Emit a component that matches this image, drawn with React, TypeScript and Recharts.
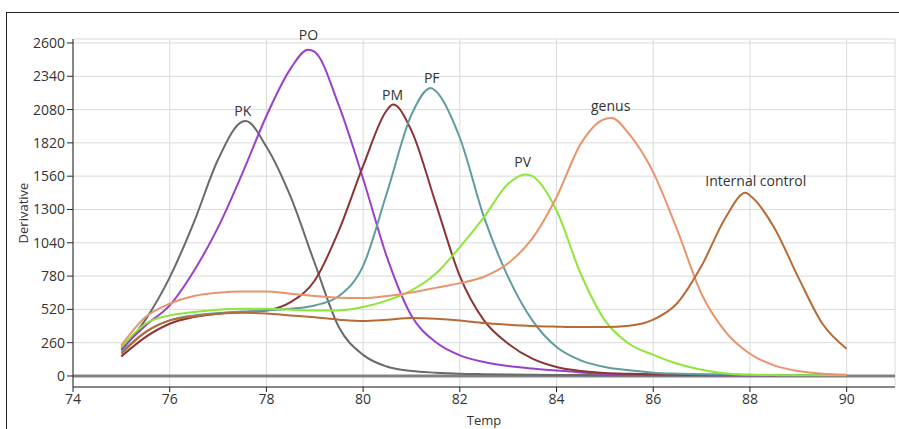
import React from 'react';
import { LineChart, Line, XAxis, YAxis, CartesianGrid, ReferenceLine, ReferenceDot, Label } from 'recharts';

const temps = [
  75, 75.5, 76, 76.5, 77, 77.5, 78, 78.5, 79, 79.5, 80, 80.5, 81, 81.5, 82, 82.5,
  83, 83.5, 84, 84.5, 85, 85.5, 86, 86.5, 87, 87.5, 88, 88.5, 89, 89.5, 90,
];

const pk = [200, 440, 770, 1200, 1690, 1985, 1790, 1400, 880, 380, 165, 72, 39, 26, 18, 14, 11, 9, 8, 7, 6, 6, 5, 5, 5, 5, 5, 5, 5, 5, 5];
const po = [213, 395, 551, 820, 1160, 1580, 2030, 2400, 2530, 2110, 1540, 920, 470, 265, 161, 109, 78, 58, 42, 28, 18, 12, 10, 8, 7, 6, 6, 6, 6, 6, 6];
const pm = [153, 304, 408, 460, 486, 499, 512, 577, 746, 1136, 1640, 2080, 1916, 1350, 780, 434, 252, 135, 70, 39, 23, 17, 13, 11, 10, 9, 8, 8, 8, 8, 8];
const pf = [187, 343, 434, 473, 491, 504, 512, 525, 551, 625, 860, 1440, 2040, 2225, 1860, 1240, 772, 434, 226, 122, 70, 44, 26, 18, 13, 11, 9, 8, 8, 8, 8];
const pv = [226, 408, 473, 499, 517, 525, 525, 517, 512, 512, 538, 590, 668, 798, 1006, 1240, 1500, 1560, 1292, 798, 434, 252, 165, 96, 49, 20, 10, 7, 5, 5, 5];
const genus = [239, 460, 564, 624, 650, 660, 660, 642, 625, 610, 608, 625, 652, 688, 725, 775, 880, 1075, 1396, 1812, 2007, 1890, 1590, 1136, 640, 343, 174, 83, 39, 18, 10];
const internalControl = [174, 343, 434, 465, 486, 494, 488, 473, 458, 440, 429, 439, 452, 447, 434, 413, 400, 390, 385, 382, 382, 392, 440, 570, 860, 1240, 1409, 1160, 770, 408, 213];

const seriesValues = [pk, po, pm, pf, pv, genus, internalControl];
const seriesNames = ['PK', 'PO', 'PM', 'PF', 'PV', 'genus', 'Internal control'];
const seriesColors = ['#6a6a6a', '#9a40cc', '#8b3434', '#5e9ca2', '#8ee63a', '#e8946c', '#b86a34'];
const peakTemps = [77.57, 78.86, 80.62, 81.4, 83.36, 85.14, 87.91];
const peakValues = [1990, 2548, 2119, 2249, 1573, 2015, 1430];

// label anchor points (centre of text)
const labelTemps = [77.51, 78.87, 80.61, 81.42, 83.3, 85.12, 88.12];
const labelValues = [2070, 2665, 2196, 2329, 1672, 2110, 1523];

const xTicks = [74, 76, 78, 80, 82, 84, 86, 88, 90];
const yTicks = [0, 260, 520, 780, 1040, 1300, 1560, 1820, 2080, 2340, 2600];

const FONT = '"Open Sans", "Noto Sans", sans-serif';

const buildSeries = (values: number[], peakT: number, peakV: number) => {
  const pts = temps.map((t, i) => ({ t, v: values[i] }));
  pts.push({ t: peakT, v: peakV });
  return pts.sort((a, b) => a.t - b.t);
};

const noTick = () => <g />;

export default function App() {
  return (
    <div style={{ position: 'absolute', left: 0, top: 0, width: 899, height: 429, background: '#fff', overflow: 'hidden' }}>
      <div style={{ position: 'absolute', left: 6, top: 12, width: 900, height: 420, borderLeft: '1px solid #222', borderTop: '1px solid #222' }} />
      <div style={{ position: 'absolute', left: 0, top: 0 }}>
        <LineChart width={899} height={429} margin={{ top: 39, right: 4, bottom: 2, left: 13 }}>
          <CartesianGrid stroke="#dadada" strokeWidth={1} />
          <XAxis
            xAxisId={0}
            type="number"
            dataKey="t"
            domain={[74, 91]}
            ticks={xTicks}
            height={40}
            tickSize={5}
            stroke="#222"
            tick={{ fill: '#333', fontSize: 14, fontFamily: FONT }}
            allowDuplicatedCategory={false}
          >
            <Label value="Temp" position="insideBottom" offset={2} style={{ fill: '#333', fontSize: 13, fontFamily: FONT }} />
          </XAxis>
          <XAxis
            xAxisId="top"
            orientation="top"
            type="number"
            domain={[74, 91]}
            ticks={xTicks}
            height={0}
            mirror
            tickSize={4}
            stroke="#333"
            tick={noTick}
          />
          <YAxis
            yAxisId={0}
            type="number"
            domain={[-86, 2631]}
            ticks={yTicks}
            width={60}
            tickSize={6}
            stroke="#222"
            tick={{ fill: '#333', fontSize: 14, fontFamily: FONT }}
          >
            <Label value="Derivative" angle={-90} position="insideLeft" offset={10} style={{ fill: '#333', fontSize: 13, fontFamily: FONT, textAnchor: 'middle' }} />
          </YAxis>
          <YAxis
            yAxisId="right"
            orientation="right"
            type="number"
            domain={[-86, 2631]}
            ticks={yTicks}
            width={0}
            mirror
            tickSize={4}
            stroke="#333"
            tick={noTick}
          />
          <ReferenceLine y={0} stroke="#808080" strokeWidth={3} />
          {seriesValues.map((vals, i) => (
            <Line
              key={seriesNames[i]}
              data={buildSeries(vals, peakTemps[i], peakValues[i])}
              dataKey="v"
              type="monotone"
              stroke={seriesColors[i]}
              strokeWidth={2}
              dot={false}
              activeDot={false}
              isAnimationActive={false}
            />
          ))}
          {seriesNames.map((name, i) => (
            <ReferenceDot
              key={`lbl-${name}`}
              x={labelTemps[i]}
              y={labelValues[i]}
              r={0}
              fill="none"
              stroke="none"
              ifOverflow="visible"
              label={{ value: name, position: 'center', fill: '#333', fontSize: 14, fontFamily: FONT }}
            />
          ))}
        </LineChart>
      </div>
    </div>
  );
}
